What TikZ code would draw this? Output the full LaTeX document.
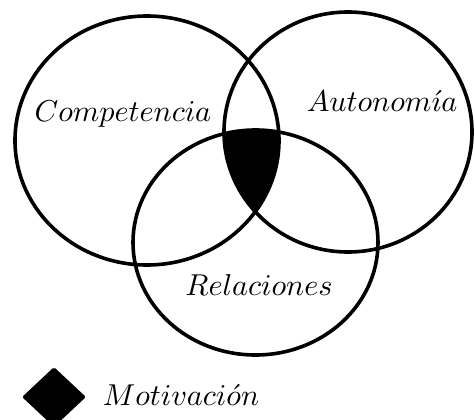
\documentclass[tikz,border=0pt]{standalone}
\usetikzlibrary{shapes.geometric}
\begin{document}
\begin{tikzpicture}[x=1pt, y=-1pt]
\tikzset{ring/.style={draw=black, line width=3.6pt},
  lbl/.style={scale=3.02}}
\useasboundingbox (0,0) rectangle (475,420);
% interseccion de los tres conjuntos
\begin{scope}
\clip (147,140.5) ellipse (132 and 124.5);
\clip (348,132) ellipse (124 and 120);
\fill[black] (255.5,242.5) ellipse (122.5 and 112.5);
\end{scope}
\draw[ring] (147,140.5) ellipse (132 and 124.5);
\draw[ring] (348,132) ellipse (124 and 120);
\draw[ring] (255.5,242.5) ellipse (122.5 and 112.5);
\node[lbl] (C) at (123,114) {$Competencia$};
\node[lbl] (A) at (382,101) {$Autonom\acute{\imath}a$};
\node[lbl] (R) at (259,285) {$Relaciones$};
% leyenda
\node[shape=diamond, fill=black, minimum width=64pt, minimum height=60pt, inner sep=0pt, rounded corners=2pt] (M) at (54,397) {};
\node[lbl] (Mtxt) at (181,395) {$Motivaci\acute{o}n$};
\end{tikzpicture}
\end{document}
